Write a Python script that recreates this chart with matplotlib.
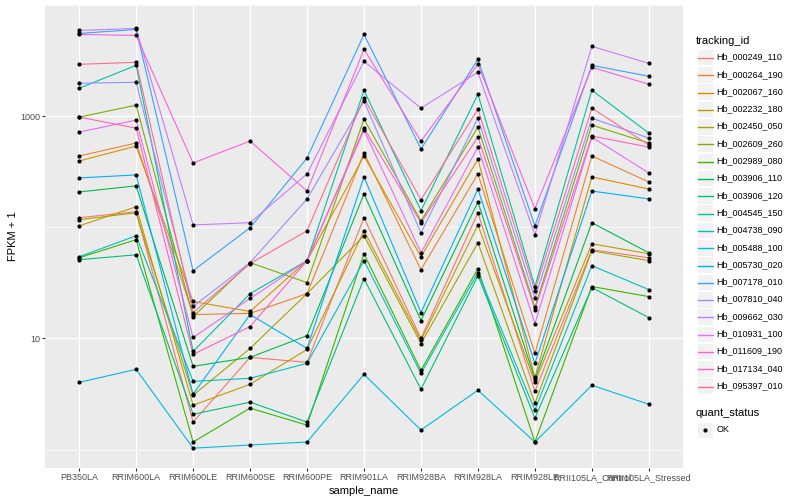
import matplotlib
matplotlib.use("Agg")
import matplotlib.pyplot as plt
from matplotlib.lines import Line2D
from matplotlib.patches import Rectangle

plt.rcParams['font.family'] = ['Liberation Sans', 'DejaVu Sans']

samples = ["PB350LA", "RRIM600LA", "RRIM600LE", "RRIM600SE", "RRIM600PE",
           "RRIM901LA", "RRIM928BA", "RRIM928LA", "RRIM928LE",
           "RRII105LA_Control", "RRII105LA_Stressed"]

tracking_ids = ["Hb_000249_110", "Hb_000264_190", "Hb_002067_160", "Hb_002232_180",
                "Hb_002450_050", "Hb_002609_260", "Hb_002989_080", "Hb_003906_110",
                "Hb_003906_120", "Hb_004545_150", "Hb_004738_090", "Hb_005488_100",
                "Hb_005730_020", "Hb_007178_010", "Hb_007810_040", "Hb_009662_030",
                "Hb_010931_100", "Hb_011609_190", "Hb_017134_040", "Hb_095397_010"]

colors = ["#F8766D", "#EA8331", "#D89000", "#C09B00", "#A3A500", "#7CAE00",
          "#39B600", "#00BB4E", "#00BF7D", "#00C1A3", "#00BFC4", "#00BAE0",
          "#00B0F6", "#35A2FF", "#9590FF", "#C77CFF", "#E76BF3", "#FA62DB",
          "#FF62BC", "#FF6C91"]

# FPKM + 1 values, one list per tracking_id, in sample order
hb_000249_110 = [122, 138, 1.77, 6.76, 6.09, 122, 10.0, 135, 3.35, 62.8, 53.2]
hb_000264_190 = [438, 573, 16.4, 16.8, 25.3, 466, 41.6, 302, 7.33, 438, 256]
hb_002067_160 = [395, 538, 21.5, 17.5, 50.1, 438, 54.3, 411, 4.47, 284, 221]
hb_002232_180 = [103, 153, 2.51, 3.87, 7.96, 93, 9.6, 105, 4.03, 71.1, 57.8]
hb_002450_050 = [117, 135, 3.08, 8.13, 25.3, 84, 9.0, 72.6, 2.61, 61.5, 50.1]
hb_002609_260 = [980, 1255, 15.7, 48.1, 31.8, 940, 114, 797, 19.0, 830, 573]
hb_002989_080 = [53.2, 77.3, 1.17, 2.36, 1.66, 57.8, 5.16, 42.5, 1.17, 29.3, 23.8]
hb_003906_110 = [208, 236, 5.61, 6.76, 10.6, 200, 14.5, 169, 4.29, 110, 59.0]
hb_003906_120 = [51.1, 56.6, 2.08, 2.67, 1.77, 34.5, 3.49, 36.7, 1.92, 28.7, 15.4]
hb_004545_150 = [1783, 2866, 7.64, 25.3, 50.1, 1711, 141, 1574, 29.3, 1711, 704]
hb_004738_090 = [54.3, 84, 4.11, 4.38, 5.97, 50.1, 4.85, 39.1, 2.26, 45.2, 27.5]
hb_005488_100 = [4.03, 5.27, 1.03, 1.10, 1.17, 4.75, 1.50, 3.42, 1.17, 3.79, 2.56]
hb_005730_020 = [278, 296, 3.15, 16.4, 8.13, 284, 17.1, 221, 5.97, 212, 180]
hb_007178_010 = [5550, 6026, 40.7, 99, 420, 5435, 506, 3245, 103, 2866, 2285]
hb_007810_040 = [1977, 2018, 19.4, 48.1, 180, 1364, 89, 959, 22.9, 959, 635]
hb_009662_030 = [5907, 6152, 105, 110, 302, 3113, 1180, 2483, 85.7, 4246, 2987]
hb_010931_100 = [719, 921, 10.2, 22.9, 50.1, 748, 59.0, 527, 13.6, 648, 308]
hb_011609_190 = [5435, 5324, 379, 597, 212, 3990, 597, 2926, 147, 2750, 1936]
hb_017134_040 = [980, 780, 7.19, 12.8, 50.1, 780, 110, 648, 18.2, 662, 527]
hb_095397_010 = [2926, 3050, 17.1, 47.1, 93, 1449, 177, 1156, 26.9, 1180, 550]

series = [hb_000249_110, hb_000264_190, hb_002067_160, hb_002232_180, hb_002450_050,
          hb_002609_260, hb_002989_080, hb_003906_110, hb_003906_120, hb_004545_150,
          hb_004738_090, hb_005488_100, hb_005730_020, hb_007178_010, hb_007810_040,
          hb_009662_030, hb_010931_100, hb_011609_190, hb_017134_040, hb_095397_010]

W, H = 800, 500
fig = plt.figure(figsize=(8, 5), dpi=100)
fig.patch.set_facecolor("white")
L, R, T, B = 45, 683, 5, 468
ax = fig.add_axes([L / W, 1 - B / H, (R - L) / W, (B - T) / H])
ax.set_facecolor("#EBEBEB")
for s in ax.spines.values():
    s.set_visible(False)

xs = list(range(len(samples)))
for vals, c in zip(series, colors):
    ax.plot(xs, vals, color=c, lw=0.8, zorder=2, solid_capstyle="butt")
for vals in series:
    ax.plot(xs, vals, "o", color="black", ms=3.0, mew=0, zorder=3)

ax.set_yscale("log")
ax.set_ylim(0.683, 9694)
ax.set_xlim(-0.6, 10.6)
ax.set_xticks(xs)
ax.set_xticklabels(samples)
ax.set_yticks([10, 1000])
ax.set_yticklabels(["10", "1000"])
ax.set_yticks([1, 100, 10000], minor=True)
ax.yaxis.set_minor_formatter(plt.NullFormatter())
ax.tick_params(axis="both", which="major", length=2.0, width=0.8, color="#333333",
               labelcolor="#4D4D4D", labelsize=6.5, pad=1.6)
ax.tick_params(axis="y", which="minor", length=0)
ax.grid(which="major", axis="both", color="white", lw=1.0, zorder=0)
ax.grid(which="minor", axis="y", color="white", lw=0.5, zorder=0)
ax.set_axisbelow(True)

ax.set_xlabel("sample_name", fontsize=8.0, color="black", labelpad=3)
ax.yaxis.set_label_coords(13 / W - L / W, 0.5, transform=fig.transFigure) if False else None
fig.text(13 / W, 1 - 236 / H, "FPKM + 1", fontsize=8.0, rotation=90, va="center", ha="center")

# legends (drawn in figure pixel coordinates)
def fx(px):
    return px / W

def fy(py):
    return 1 - py / H

fig.text(fx(696), fy(40.5), "tracking_id", fontsize=8.0, va="center", ha="left")
row0, step = 57.0, 17.3
for i, (name, c) in enumerate(zip(tracking_ids, colors)):
    cy = row0 + step * i
    fig.add_artist(Rectangle((fx(696.5), fy(cy + 8.3)), 16.6 / W, 16.6 / H,
                             transform=fig.transFigure, facecolor="#F2F2F2",
                             edgecolor="white", lw=0.8, zorder=1))
    ly = round(cy) + 0.5
    fig.add_artist(Line2D([fx(698), fx(713)], [fy(ly), fy(ly)], color=c, lw=1.0,
                          transform=fig.transFigure, zorder=2))
    fig.text(fx(716.5), fy(cy), name, fontsize=6.5, va="center", ha="left")

fig.text(fx(696), fy(412.5), "quant_status", fontsize=8.0, va="center", ha="left")
cy = 430
fig.add_artist(Rectangle((fx(696.5), fy(cy + 8.3)), 16.6 / W, 16.6 / H,
                         transform=fig.transFigure, facecolor="#F2F2F2",
                         edgecolor="white", lw=0.8, zorder=1))
fig.add_artist(Line2D([fx(705)], [fy(cy)], marker="o", color="black", ms=3.0, mew=0,
                      transform=fig.transFigure, zorder=2))
fig.text(fx(716.5), fy(cy), "OK", fontsize=6.5, va="center", ha="left")

fig.savefig("out.png", dpi=100, facecolor="white")
